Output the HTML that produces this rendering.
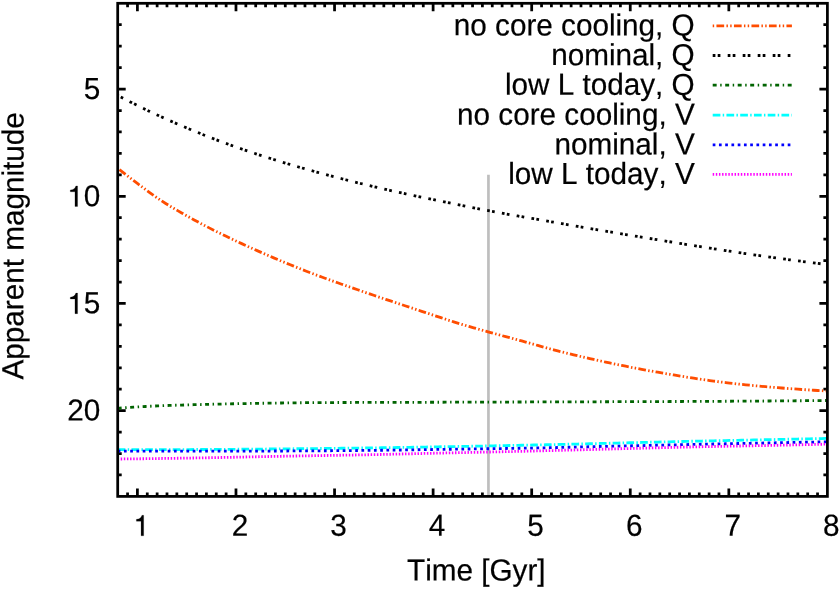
<!DOCTYPE html>
<html><head><meta charset="utf-8"><title>plot</title>
<style>
html,body{margin:0;padding:0;background:#fff;}
svg{display:block;will-change:transform;opacity:0.999}
text{font-family:"Liberation Sans",sans-serif;font-size:29.7px;fill:#000;font-kerning:none;text-rendering:geometricPrecision;stroke:#000;stroke-width:0.2px}
</style></head><body>
<svg width="839" height="589" viewBox="0 0 839 589">
<rect width="839" height="589" fill="#fff"/>
<path d="M127.56,496.4v-4M127.56,3.3v4M137.41,496.4v-8M137.41,3.3v8M147.27,496.4v-4M147.27,3.3v4M157.13,496.4v-4M157.13,3.3v4M166.98,496.4v-4M166.98,3.3v4M176.84,496.4v-4M176.84,3.3v4M186.70,496.4v-4M186.70,3.3v4M196.56,496.4v-4M196.56,3.3v4M206.41,496.4v-4M206.41,3.3v4M216.27,496.4v-4M216.27,3.3v4M226.13,496.4v-4M226.13,3.3v4M235.98,496.4v-8M235.98,3.3v8M245.84,496.4v-4M245.84,3.3v4M255.70,496.4v-4M255.70,3.3v4M265.55,496.4v-4M265.55,3.3v4M275.41,496.4v-4M275.41,3.3v4M285.27,496.4v-4M285.27,3.3v4M295.12,496.4v-4M295.12,3.3v4M304.98,496.4v-4M304.98,3.3v4M314.84,496.4v-4M314.84,3.3v4M324.70,496.4v-4M324.70,3.3v4M334.55,496.4v-8M334.55,3.3v8M344.41,496.4v-4M344.41,3.3v4M354.27,496.4v-4M354.27,3.3v4M364.12,496.4v-4M364.12,3.3v4M373.98,496.4v-4M373.98,3.3v4M383.84,496.4v-4M383.84,3.3v4M393.69,496.4v-4M393.69,3.3v4M403.55,496.4v-4M403.55,3.3v4M413.41,496.4v-4M413.41,3.3v4M423.27,496.4v-4M423.27,3.3v4M433.12,496.4v-8M433.12,3.3v8M442.98,496.4v-4M442.98,3.3v4M452.84,496.4v-4M452.84,3.3v4M462.69,496.4v-4M462.69,3.3v4M472.55,496.4v-4M472.55,3.3v4M482.41,496.4v-4M482.41,3.3v4M492.26,496.4v-4M492.26,3.3v4M502.12,496.4v-4M502.12,3.3v4M511.98,496.4v-4M511.98,3.3v4M521.83,496.4v-4M521.83,3.3v4M531.69,496.4v-8M531.69,3.3v8M541.55,496.4v-4M541.55,3.3v4M551.41,496.4v-4M551.41,3.3v4M561.26,496.4v-4M561.26,3.3v4M571.12,496.4v-4M571.12,3.3v4M580.98,496.4v-4M580.98,3.3v4M590.83,496.4v-4M590.83,3.3v4M600.69,496.4v-4M600.69,3.3v4M610.55,496.4v-4M610.55,3.3v4M620.40,496.4v-4M620.40,3.3v4M630.26,496.4v-8M630.26,3.3v8M640.12,496.4v-4M640.12,3.3v4M649.98,496.4v-4M649.98,3.3v4M659.83,496.4v-4M659.83,3.3v4M669.69,496.4v-4M669.69,3.3v4M679.55,496.4v-4M679.55,3.3v4M689.40,496.4v-4M689.40,3.3v4M699.26,496.4v-4M699.26,3.3v4M709.12,496.4v-4M709.12,3.3v4M718.97,496.4v-4M718.97,3.3v4M728.83,496.4v-8M728.83,3.3v8M738.69,496.4v-4M738.69,3.3v4M748.54,496.4v-4M748.54,3.3v4M758.40,496.4v-4M758.40,3.3v4M768.26,496.4v-4M768.26,3.3v4M778.12,496.4v-4M778.12,3.3v4M787.97,496.4v-4M787.97,3.3v4M797.83,496.4v-4M797.83,3.3v4M807.69,496.4v-4M807.69,3.3v4M817.54,496.4v-4M817.54,3.3v4M117.7,24.74h4M827.4,24.74h-4M117.7,46.18h4M827.4,46.18h-4M117.7,67.62h4M827.4,67.62h-4M117.7,89.06h8M827.4,89.06h-8M117.7,110.50h4M827.4,110.50h-4M117.7,131.93h4M827.4,131.93h-4M117.7,153.37h4M827.4,153.37h-4M117.7,174.81h4M827.4,174.81h-4M117.7,196.25h8M827.4,196.25h-8M117.7,217.69h4M827.4,217.69h-4M117.7,239.13h4M827.4,239.13h-4M117.7,260.57h4M827.4,260.57h-4M117.7,282.01h4M827.4,282.01h-4M117.7,303.45h8M827.4,303.45h-8M117.7,324.89h4M827.4,324.89h-4M117.7,346.33h4M827.4,346.33h-4M117.7,367.77h4M827.4,367.77h-4M117.7,389.20h4M827.4,389.20h-4M117.7,410.64h8M827.4,410.64h-8M117.7,432.08h4M827.4,432.08h-4M117.7,453.52h4M827.4,453.52h-4M117.7,474.96h4M827.4,474.96h-4" stroke="#000" stroke-width="2.75" fill="none"/>
<path d="M488.45,174.8V496.4" stroke="#bebebe" stroke-width="2.7" fill="none"/>
<path d="M117.7,168.30 L121.7,171.45 L125.7,174.57 L129.7,177.64 L133.7,180.68 L137.7,183.69 L141.7,186.66 L145.7,189.63 L149.7,192.58 L153.7,195.47 L157.7,198.26 L161.7,200.92 L165.7,203.46 L169.7,205.92 L173.7,208.31 L177.7,210.64 L181.7,212.93 L185.7,215.20 L189.7,217.44 L193.7,219.65 L197.7,221.83 L201.7,223.97 L205.7,226.07 L209.7,228.13 L213.7,230.16 L217.7,232.15 L221.7,234.12 L225.7,236.07 L229.7,238.00 L233.7,239.90 L237.7,241.78 L241.7,243.64 L245.7,245.48 L249.7,247.31 L253.7,249.11 L257.7,250.89 L261.7,252.66 L265.7,254.41 L269.7,256.14 L273.7,257.86 L277.7,259.56 L281.7,261.24 L285.7,262.90 L289.7,264.55 L293.7,266.17 L297.7,267.78 L301.7,269.37 L305.7,270.94 L309.7,272.48 L313.7,274.01 L317.7,275.52 L321.7,277.00 L325.7,278.47 L329.7,279.92 L333.7,281.36 L337.7,282.79 L341.7,284.20 L345.7,285.61 L349.7,287.00 L353.7,288.40 L357.7,289.79 L361.7,291.18 L365.7,292.56 L369.7,293.93 L373.7,295.29 L377.7,296.65 L381.7,298.00 L385.7,299.34 L389.7,300.67 L393.7,302.00 L397.7,303.33 L401.7,304.66 L405.7,305.98 L409.7,307.31 L413.7,308.63 L417.7,309.96 L421.7,311.30 L425.7,312.64 L429.7,313.97 L433.7,315.31 L437.7,316.63 L441.7,317.95 L445.7,319.26 L449.7,320.55 L453.7,321.82 L457.7,323.07 L461.7,324.30 L465.7,325.50 L469.7,326.67 L473.7,327.81 L477.7,328.94 L481.7,330.06 L485.7,331.17 L489.7,332.28 L493.7,333.38 L497.7,334.47 L501.7,335.56 L505.7,336.64 L509.7,337.71 L513.7,338.79 L517.7,339.87 L521.7,340.97 L525.7,342.07 L529.7,343.19 L533.7,344.31 L537.7,345.44 L541.7,346.56 L545.7,347.67 L549.7,348.77 L553.7,349.84 L557.7,350.89 L561.7,351.90 L565.7,352.89 L569.7,353.88 L573.7,354.84 L577.7,355.80 L581.7,356.74 L585.7,357.67 L589.7,358.59 L593.7,359.49 L597.7,360.38 L601.7,361.25 L605.7,362.11 L609.7,362.96 L613.7,363.79 L617.7,364.62 L621.7,365.43 L625.7,366.24 L629.7,367.03 L633.7,367.81 L637.7,368.58 L641.7,369.33 L645.7,370.08 L649.7,370.81 L653.7,371.53 L657.7,372.24 L661.7,372.93 L665.7,373.61 L669.7,374.29 L673.7,374.96 L677.7,375.63 L681.7,376.29 L685.7,376.94 L689.7,377.58 L693.7,378.20 L697.7,378.81 L701.7,379.41 L705.7,379.99 L709.7,380.55 L713.7,381.09 L717.7,381.61 L721.7,382.11 L725.7,382.59 L729.7,383.06 L733.7,383.52 L737.7,383.97 L741.7,384.40 L745.7,384.82 L749.7,385.23 L753.7,385.62 L757.7,386.00 L761.7,386.36 L765.7,386.71 L769.7,387.05 L773.7,387.38 L777.7,387.70 L781.7,388.02 L785.7,388.33 L789.7,388.63 L793.7,388.92 L797.7,389.21 L801.7,389.48 L805.7,389.75 L809.7,390.01 L813.7,390.25 L817.7,390.48 L821.7,390.71 L825.7,390.92 L827.4,391.00" stroke="#ff4d00" stroke-width="2.8" stroke-dasharray="1.450 2.300 7.700 2.300 1.450 2.300" stroke-dashoffset="1.5" fill="none"/>
<path d="M117.7,95.50 L121.7,97.57 L125.7,99.62 L129.7,101.64 L133.7,103.65 L137.7,105.63 L141.7,107.59 L145.7,109.53 L149.7,111.44 L153.7,113.32 L157.7,115.18 L161.7,117.01 L165.7,118.81 L169.7,120.58 L173.7,122.34 L177.7,124.08 L181.7,125.80 L185.7,127.50 L189.7,129.18 L193.7,130.84 L197.7,132.47 L201.7,134.09 L205.7,135.69 L209.7,137.26 L213.7,138.81 L217.7,140.33 L221.7,141.83 L225.7,143.31 L229.7,144.76 L233.7,146.20 L237.7,147.61 L241.7,149.00 L245.7,150.38 L249.7,151.73 L253.7,153.07 L257.7,154.39 L261.7,155.69 L265.7,156.98 L269.7,158.25 L273.7,159.51 L277.7,160.75 L281.7,161.97 L285.7,163.19 L289.7,164.38 L293.7,165.57 L297.7,166.73 L301.7,167.89 L305.7,169.03 L309.7,170.15 L313.7,171.27 L317.7,172.37 L321.7,173.46 L325.7,174.53 L329.7,175.60 L333.7,176.66 L337.7,177.70 L341.7,178.74 L345.7,179.76 L349.7,180.78 L353.7,181.78 L357.7,182.77 L361.7,183.76 L365.7,184.73 L369.7,185.69 L373.7,186.64 L377.7,187.58 L381.7,188.50 L385.7,189.42 L389.7,190.33 L393.7,191.23 L397.7,192.11 L401.7,192.98 L405.7,193.83 L409.7,194.68 L413.7,195.52 L417.7,196.35 L421.7,197.18 L425.7,198.00 L429.7,198.82 L433.7,199.64 L437.7,200.46 L441.7,201.28 L445.7,202.10 L449.7,202.93 L453.7,203.76 L457.7,204.58 L461.7,205.40 L465.7,206.22 L469.7,207.03 L473.7,207.84 L477.7,208.63 L481.7,209.42 L485.7,210.19 L489.7,210.94 L493.7,211.69 L497.7,212.42 L501.7,213.15 L505.7,213.87 L509.7,214.58 L513.7,215.28 L517.7,215.98 L521.7,216.67 L525.7,217.36 L529.7,218.05 L533.7,218.74 L537.7,219.43 L541.7,220.13 L545.7,220.82 L549.7,221.52 L553.7,222.22 L557.7,222.91 L561.7,223.61 L565.7,224.30 L569.7,224.99 L573.7,225.68 L577.7,226.37 L581.7,227.06 L585.7,227.75 L589.7,228.44 L593.7,229.12 L597.7,229.80 L601.7,230.48 L605.7,231.16 L609.7,231.83 L613.7,232.50 L617.7,233.17 L621.7,233.84 L625.7,234.51 L629.7,235.18 L633.7,235.85 L637.7,236.51 L641.7,237.17 L645.7,237.83 L649.7,238.49 L653.7,239.15 L657.7,239.80 L661.7,240.45 L665.7,241.10 L669.7,241.75 L673.7,242.39 L677.7,243.03 L681.7,243.67 L685.7,244.31 L689.7,244.95 L693.7,245.58 L697.7,246.22 L701.7,246.85 L705.7,247.49 L709.7,248.12 L713.7,248.75 L717.7,249.37 L721.7,250.00 L725.7,250.61 L729.7,251.23 L733.7,251.84 L737.7,252.44 L741.7,253.04 L745.7,253.63 L749.7,254.21 L753.7,254.79 L757.7,255.36 L761.7,255.92 L765.7,256.48 L769.7,257.04 L773.7,257.60 L777.7,258.15 L781.7,258.69 L785.7,259.23 L789.7,259.77 L793.7,260.30 L797.7,260.83 L801.7,261.35 L805.7,261.87 L809.7,262.38 L813.7,262.89 L817.7,263.40 L821.7,263.90 L825.7,264.39 L827.4,264.60" stroke="#000000" stroke-width="2.8" stroke-dasharray="2.700 2.300 2.700 7.300" stroke-dashoffset="1.6" fill="none"/>
<path d="M117.7,408.30 L121.7,408.01 L125.7,407.73 L129.7,407.46 L133.7,407.20 L137.7,406.95 L141.7,406.71 L145.7,406.48 L149.7,406.27 L153.7,406.08 L157.7,405.90 L161.7,405.73 L165.7,405.58 L169.7,405.44 L173.7,405.30 L177.7,405.17 L181.7,405.05 L185.7,404.93 L189.7,404.82 L193.7,404.71 L197.7,404.60 L201.7,404.50 L205.7,404.40 L209.7,404.31 L213.7,404.21 L217.7,404.12 L221.7,404.03 L225.7,403.94 L229.7,403.85 L233.7,403.77 L237.7,403.69 L241.7,403.61 L245.7,403.54 L249.7,403.47 L253.7,403.40 L257.7,403.33 L261.7,403.27 L265.7,403.22 L269.7,403.16 L273.7,403.10 L277.7,403.04 L281.7,402.99 L285.7,402.93 L289.7,402.88 L293.7,402.83 L297.7,402.79 L301.7,402.74 L305.7,402.70 L309.7,402.67 L313.7,402.64 L317.7,402.61 L321.7,402.59 L325.7,402.57 L329.7,402.55 L333.7,402.54 L337.7,402.52 L341.7,402.51 L345.7,402.49 L349.7,402.48 L353.7,402.47 L357.7,402.46 L361.7,402.45 L365.7,402.44 L369.7,402.43 L373.7,402.42 L377.7,402.41 L381.7,402.40 L385.7,402.39 L389.7,402.38 L393.7,402.37 L397.7,402.36 L401.7,402.35 L405.7,402.34 L409.7,402.33 L413.7,402.32 L417.7,402.31 L421.7,402.29 L425.7,402.28 L429.7,402.27 L433.7,402.26 L437.7,402.25 L441.7,402.23 L445.7,402.22 L449.7,402.21 L453.7,402.20 L457.7,402.19 L461.7,402.17 L465.7,402.16 L469.7,402.15 L473.7,402.14 L477.7,402.13 L481.7,402.11 L485.7,402.10 L489.7,402.09 L493.7,402.08 L497.7,402.07 L501.7,402.05 L505.7,402.04 L509.7,402.03 L513.7,402.02 L517.7,402.01 L521.7,401.99 L525.7,401.98 L529.7,401.97 L533.7,401.96 L537.7,401.95 L541.7,401.94 L545.7,401.93 L549.7,401.91 L553.7,401.90 L557.7,401.89 L561.7,401.88 L565.7,401.87 L569.7,401.86 L573.7,401.84 L577.7,401.83 L581.7,401.82 L585.7,401.81 L589.7,401.80 L593.7,401.79 L597.7,401.77 L601.7,401.76 L605.7,401.75 L609.7,401.73 L613.7,401.72 L617.7,401.71 L621.7,401.69 L625.7,401.68 L629.7,401.67 L633.7,401.65 L637.7,401.64 L641.7,401.63 L645.7,401.61 L649.7,401.60 L653.7,401.58 L657.7,401.57 L661.7,401.55 L665.7,401.54 L669.7,401.52 L673.7,401.51 L677.7,401.49 L681.7,401.48 L685.7,401.46 L689.7,401.44 L693.7,401.43 L697.7,401.41 L701.7,401.39 L705.7,401.37 L709.7,401.35 L713.7,401.33 L717.7,401.31 L721.7,401.29 L725.7,401.27 L729.7,401.25 L733.7,401.22 L737.7,401.20 L741.7,401.18 L745.7,401.15 L749.7,401.12 L753.7,401.10 L757.7,401.07 L761.7,401.04 L765.7,401.01 L769.7,400.98 L773.7,400.95 L777.7,400.92 L781.7,400.89 L785.7,400.86 L789.7,400.83 L793.7,400.80 L797.7,400.76 L801.7,400.73 L805.7,400.69 L809.7,400.66 L813.7,400.62 L817.7,400.59 L821.7,400.55 L825.7,400.52 L827.4,400.50" stroke="#006400" stroke-width="2.8" stroke-dasharray="3.950 3.550 1.450 3.550" stroke-dashoffset="0" fill="none"/>
<path d="M117.7,449.70 L121.7,449.70 L125.7,449.70 L129.7,449.69 L133.7,449.69 L137.7,449.68 L141.7,449.68 L145.7,449.67 L149.7,449.66 L153.7,449.65 L157.7,449.64 L161.7,449.63 L165.7,449.62 L169.7,449.61 L173.7,449.59 L177.7,449.58 L181.7,449.57 L185.7,449.55 L189.7,449.54 L193.7,449.52 L197.7,449.51 L201.7,449.49 L205.7,449.48 L209.7,449.46 L213.7,449.44 L217.7,449.41 L221.7,449.39 L225.7,449.36 L229.7,449.33 L233.7,449.30 L237.7,449.27 L241.7,449.24 L245.7,449.21 L249.7,449.17 L253.7,449.14 L257.7,449.10 L261.7,449.07 L265.7,449.03 L269.7,448.99 L273.7,448.96 L277.7,448.92 L281.7,448.88 L285.7,448.85 L289.7,448.81 L293.7,448.77 L297.7,448.73 L301.7,448.69 L305.7,448.65 L309.7,448.61 L313.7,448.57 L317.7,448.53 L321.7,448.48 L325.7,448.44 L329.7,448.39 L333.7,448.35 L337.7,448.30 L341.7,448.25 L345.7,448.21 L349.7,448.16 L353.7,448.11 L357.7,448.06 L361.7,448.01 L365.7,447.96 L369.7,447.90 L373.7,447.85 L377.7,447.80 L381.7,447.74 L385.7,447.68 L389.7,447.62 L393.7,447.56 L397.7,447.50 L401.7,447.44 L405.7,447.37 L409.7,447.31 L413.7,447.24 L417.7,447.18 L421.7,447.11 L425.7,447.04 L429.7,446.98 L433.7,446.91 L437.7,446.84 L441.7,446.77 L445.7,446.70 L449.7,446.63 L453.7,446.56 L457.7,446.49 L461.7,446.42 L465.7,446.35 L469.7,446.28 L473.7,446.20 L477.7,446.13 L481.7,446.05 L485.7,445.98 L489.7,445.90 L493.7,445.83 L497.7,445.75 L501.7,445.67 L505.7,445.59 L509.7,445.51 L513.7,445.43 L517.7,445.35 L521.7,445.27 L525.7,445.19 L529.7,445.11 L533.7,445.02 L537.7,444.94 L541.7,444.85 L545.7,444.76 L549.7,444.67 L553.7,444.58 L557.7,444.49 L561.7,444.40 L565.7,444.31 L569.7,444.22 L573.7,444.12 L577.7,444.03 L581.7,443.93 L585.7,443.84 L589.7,443.74 L593.7,443.65 L597.7,443.55 L601.7,443.46 L605.7,443.36 L609.7,443.27 L613.7,443.17 L617.7,443.07 L621.7,442.97 L625.7,442.87 L629.7,442.77 L633.7,442.67 L637.7,442.57 L641.7,442.47 L645.7,442.37 L649.7,442.27 L653.7,442.17 L657.7,442.07 L661.7,441.97 L665.7,441.87 L669.7,441.78 L673.7,441.68 L677.7,441.58 L681.7,441.49 L685.7,441.40 L689.7,441.31 L693.7,441.22 L697.7,441.13 L701.7,441.04 L705.7,440.95 L709.7,440.87 L713.7,440.78 L717.7,440.70 L721.7,440.61 L725.7,440.53 L729.7,440.45 L733.7,440.37 L737.7,440.28 L741.7,440.20 L745.7,440.12 L749.7,440.04 L753.7,439.96 L757.7,439.88 L761.7,439.80 L765.7,439.71 L769.7,439.63 L773.7,439.55 L777.7,439.47 L781.7,439.39 L785.7,439.30 L789.7,439.22 L793.7,439.13 L797.7,439.05 L801.7,438.96 L805.7,438.88 L809.7,438.79 L813.7,438.70 L817.7,438.61 L821.7,438.53 L825.7,438.44 L827.4,438.40" stroke="#00ffff" stroke-width="2.8" stroke-dasharray="7.700 2.300 1.450 2.300" stroke-dashoffset="0" fill="none"/>
<path d="M117.7,451.20 L121.7,451.20 L125.7,451.20 L129.7,451.20 L133.7,451.20 L137.7,451.20 L141.7,451.20 L145.7,451.20 L149.7,451.20 L153.7,451.20 L157.7,451.20 L161.7,451.20 L165.7,451.20 L169.7,451.20 L173.7,451.20 L177.7,451.20 L181.7,451.20 L185.7,451.20 L189.7,451.20 L193.7,451.20 L197.7,451.20 L201.7,451.20 L205.7,451.20 L209.7,451.20 L213.7,451.19 L217.7,451.19 L221.7,451.18 L225.7,451.17 L229.7,451.16 L233.7,451.15 L237.7,451.14 L241.7,451.13 L245.7,451.12 L249.7,451.11 L253.7,451.09 L257.7,451.08 L261.7,451.07 L265.7,451.05 L269.7,451.04 L273.7,451.02 L277.7,451.01 L281.7,450.99 L285.7,450.98 L289.7,450.96 L293.7,450.94 L297.7,450.92 L301.7,450.90 L305.7,450.88 L309.7,450.86 L313.7,450.84 L317.7,450.81 L321.7,450.79 L325.7,450.76 L329.7,450.73 L333.7,450.70 L337.7,450.67 L341.7,450.64 L345.7,450.61 L349.7,450.58 L353.7,450.54 L357.7,450.51 L361.7,450.47 L365.7,450.44 L369.7,450.40 L373.7,450.36 L377.7,450.32 L381.7,450.27 L385.7,450.22 L389.7,450.17 L393.7,450.11 L397.7,450.06 L401.7,450.00 L405.7,449.93 L409.7,449.87 L413.7,449.81 L417.7,449.74 L421.7,449.68 L425.7,449.62 L429.7,449.55 L433.7,449.49 L437.7,449.43 L441.7,449.38 L445.7,449.32 L449.7,449.26 L453.7,449.21 L457.7,449.15 L461.7,449.10 L465.7,449.05 L469.7,448.99 L473.7,448.94 L477.7,448.89 L481.7,448.83 L485.7,448.78 L489.7,448.73 L493.7,448.67 L497.7,448.61 L501.7,448.55 L505.7,448.50 L509.7,448.44 L513.7,448.37 L517.7,448.31 L521.7,448.24 L525.7,448.18 L529.7,448.11 L533.7,448.03 L537.7,447.95 L541.7,447.87 L545.7,447.79 L549.7,447.70 L553.7,447.61 L557.7,447.52 L561.7,447.42 L565.7,447.32 L569.7,447.23 L573.7,447.13 L577.7,447.03 L581.7,446.93 L585.7,446.84 L589.7,446.74 L593.7,446.64 L597.7,446.55 L601.7,446.46 L605.7,446.37 L609.7,446.28 L613.7,446.19 L617.7,446.10 L621.7,446.01 L625.7,445.92 L629.7,445.83 L633.7,445.74 L637.7,445.65 L641.7,445.56 L645.7,445.47 L649.7,445.38 L653.7,445.29 L657.7,445.20 L661.7,445.11 L665.7,445.02 L669.7,444.94 L673.7,444.85 L677.7,444.76 L681.7,444.68 L685.7,444.59 L689.7,444.51 L693.7,444.42 L697.7,444.34 L701.7,444.25 L705.7,444.17 L709.7,444.09 L713.7,444.01 L717.7,443.92 L721.7,443.84 L725.7,443.76 L729.7,443.68 L733.7,443.60 L737.7,443.52 L741.7,443.44 L745.7,443.36 L749.7,443.28 L753.7,443.20 L757.7,443.12 L761.7,443.04 L765.7,442.96 L769.7,442.88 L773.7,442.80 L777.7,442.73 L781.7,442.65 L785.7,442.57 L789.7,442.50 L793.7,442.42 L797.7,442.34 L801.7,442.27 L805.7,442.19 L809.7,442.12 L813.7,442.05 L817.7,441.97 L821.7,441.90 L825.7,441.83 L827.4,441.80" stroke="#0000ff" stroke-width="2.8" stroke-dasharray="2.700 3.550" stroke-dashoffset="0" fill="none"/>
<path d="M120.7,459.00 L124.7,458.96 L128.7,458.91 L132.7,458.86 L136.7,458.82 L140.7,458.77 L144.7,458.72 L148.7,458.66 L152.7,458.61 L156.7,458.56 L160.7,458.50 L164.7,458.44 L168.7,458.39 L172.7,458.33 L176.7,458.27 L180.7,458.21 L184.7,458.14 L188.7,458.08 L192.7,458.02 L196.7,457.95 L200.7,457.89 L204.7,457.82 L208.7,457.75 L212.7,457.68 L216.7,457.60 L220.7,457.52 L224.7,457.44 L228.7,457.36 L232.7,457.28 L236.7,457.19 L240.7,457.11 L244.7,457.02 L248.7,456.94 L252.7,456.85 L256.7,456.77 L260.7,456.69 L264.7,456.60 L268.7,456.52 L272.7,456.44 L276.7,456.36 L280.7,456.29 L284.7,456.21 L288.7,456.14 L292.7,456.07 L296.7,456.00 L300.7,455.93 L304.7,455.86 L308.7,455.79 L312.7,455.72 L316.7,455.65 L320.7,455.59 L324.7,455.52 L328.7,455.45 L332.7,455.38 L336.7,455.31 L340.7,455.25 L344.7,455.17 L348.7,455.10 L352.7,455.03 L356.7,454.96 L360.7,454.88 L364.7,454.80 L368.7,454.73 L372.7,454.65 L376.7,454.56 L380.7,454.48 L384.7,454.39 L388.7,454.30 L392.7,454.21 L396.7,454.12 L400.7,454.02 L404.7,453.93 L408.7,453.83 L412.7,453.74 L416.7,453.64 L420.7,453.55 L424.7,453.45 L428.7,453.36 L432.7,453.27 L436.7,453.17 L440.7,453.08 L444.7,452.99 L448.7,452.91 L452.7,452.82 L456.7,452.73 L460.7,452.64 L464.7,452.56 L468.7,452.47 L472.7,452.38 L476.7,452.30 L480.7,452.21 L484.7,452.12 L488.7,452.03 L492.7,451.95 L496.7,451.86 L500.7,451.77 L504.7,451.68 L508.7,451.59 L512.7,451.50 L516.7,451.41 L520.7,451.32 L524.7,451.23 L528.7,451.13 L532.7,451.04 L536.7,450.94 L540.7,450.84 L544.7,450.74 L548.7,450.64 L552.7,450.53 L556.7,450.43 L560.7,450.33 L564.7,450.22 L568.7,450.12 L572.7,450.01 L576.7,449.91 L580.7,449.80 L584.7,449.70 L588.7,449.59 L592.7,449.49 L596.7,449.38 L600.7,449.28 L604.7,449.18 L608.7,449.07 L612.7,448.97 L616.7,448.86 L620.7,448.76 L624.7,448.65 L628.7,448.55 L632.7,448.44 L636.7,448.33 L640.7,448.23 L644.7,448.12 L648.7,448.02 L652.7,447.91 L656.7,447.81 L660.7,447.71 L664.7,447.61 L668.7,447.51 L672.7,447.41 L676.7,447.31 L680.7,447.21 L684.7,447.12 L688.7,447.03 L692.7,446.94 L696.7,446.85 L700.7,446.77 L704.7,446.68 L708.7,446.60 L712.7,446.52 L716.7,446.44 L720.7,446.36 L724.7,446.29 L728.7,446.21 L732.7,446.14 L736.7,446.06 L740.7,445.99 L744.7,445.91 L748.7,445.84 L752.7,445.76 L756.7,445.69 L760.7,445.61 L764.7,445.54 L768.7,445.46 L772.7,445.38 L776.7,445.30 L780.7,445.22 L784.7,445.14 L788.7,445.05 L792.7,444.96 L796.7,444.88 L800.7,444.78 L804.7,444.69 L808.7,444.59 L812.7,444.49 L816.7,444.38 L820.7,444.28 L824.7,444.17 L827.4,444.10" stroke="#ff00ff" stroke-width="2.8" stroke-dasharray="1.450 1.675" stroke-dashoffset="0" fill="none"/>
<text transform="translate(694.7,35.5) rotate(0.03) scale(1,1.025)" text-anchor="end">no core cooling, Q</text>
<path d="M712.7,25.8H791.9" stroke="#ff4d00" stroke-width="2.8" stroke-dasharray="1.450 2.300 7.700 2.300 1.450 2.300" fill="none"/>
<text transform="translate(694.7,65.2) rotate(0.03) scale(1,1.025)" text-anchor="end">nominal, Q</text>
<path d="M712.7,55.5H791.9" stroke="#000000" stroke-width="2.8" stroke-dasharray="2.700 2.300 2.700 7.300" fill="none"/>
<text transform="translate(694.7,94.9) rotate(0.03) scale(1,1.025)" text-anchor="end">low L today, Q</text>
<path d="M712.7,85.2H791.9" stroke="#006400" stroke-width="2.8" stroke-dasharray="3.950 3.550 1.450 3.550" fill="none"/>
<text transform="translate(694.7,124.8) rotate(0.03) scale(1,1.025)" text-anchor="end">no core cooling, V</text>
<path d="M712.7,115.1H791.9" stroke="#00ffff" stroke-width="2.8" stroke-dasharray="7.700 2.300 1.450 2.300" fill="none"/>
<text transform="translate(694.7,154.5) rotate(0.03) scale(1,1.025)" text-anchor="end">nominal, V</text>
<path d="M712.7,144.8H791.9" stroke="#0000ff" stroke-width="2.8" stroke-dasharray="2.700 3.550" fill="none"/>
<text transform="translate(694.7,184.0) rotate(0.03) scale(1,1.025)" text-anchor="end">low L today, V</text>
<path d="M712.7,174.3H791.9" stroke="#ff00ff" stroke-width="2.8" stroke-dasharray="1.450 1.675" fill="none"/>
<rect x="117.7" y="3.3" width="709.7" height="493.1" stroke="#000" stroke-width="2.75" fill="none"/>
<text transform="translate(100.3,99.0) rotate(0.03) scale(1,1.025)" text-anchor="end">5</text>
<path transform="translate(67.27,206.45) scale(0.02970,-0.02896)" d="M259,0L259,505L102,505L102,568C205,580 258,612 290,709L347,709L347,0Z" fill="#000" stroke="#000" stroke-width="7"/>
<text transform="translate(100.3,206.2) rotate(0.03) scale(1,1.025)" text-anchor="end">0</text>
<path transform="translate(67.27,313.65) scale(0.02970,-0.02896)" d="M259,0L259,505L102,505L102,568C205,580 258,612 290,709L347,709L347,0Z" fill="#000" stroke="#000" stroke-width="7"/>
<text transform="translate(100.3,313.3) rotate(0.03) scale(1,1.025)" text-anchor="end">5</text>
<text transform="translate(100.3,420.5) rotate(0.03) scale(1,1.025)" text-anchor="end">20</text>
<path transform="translate(133.36,535.80) scale(0.02970,-0.02896)" d="M259,0L259,505L102,505L102,568C205,580 258,612 290,709L347,709L347,0Z" fill="#000" stroke="#000" stroke-width="7"/>
<text transform="translate(239.9,535.85) rotate(0.03) scale(1,1.025)" text-anchor="middle">2</text>
<text transform="translate(338.5,535.85) rotate(0.03) scale(1,1.025)" text-anchor="middle">3</text>
<text transform="translate(437.0,535.85) rotate(0.03) scale(1,1.025)" text-anchor="middle">4</text>
<text transform="translate(535.6,535.85) rotate(0.03) scale(1,1.025)" text-anchor="middle">5</text>
<text transform="translate(634.2,535.85) rotate(0.03) scale(1,1.025)" text-anchor="middle">6</text>
<text transform="translate(732.7,535.85) rotate(0.03) scale(1,1.025)" text-anchor="middle">7</text>
<text transform="translate(831.3,535.85) rotate(0.03) scale(1,1.025)" text-anchor="middle">8</text>
<text transform="translate(476.3,580.5) rotate(0.03) scale(1,1.025)" text-anchor="middle">Time [Gyr]</text>
<text transform="translate(23.4,245.9) rotate(-89.97) scale(1,1.025)" text-anchor="middle">Apparent magnitude</text>
</svg></body></html>
